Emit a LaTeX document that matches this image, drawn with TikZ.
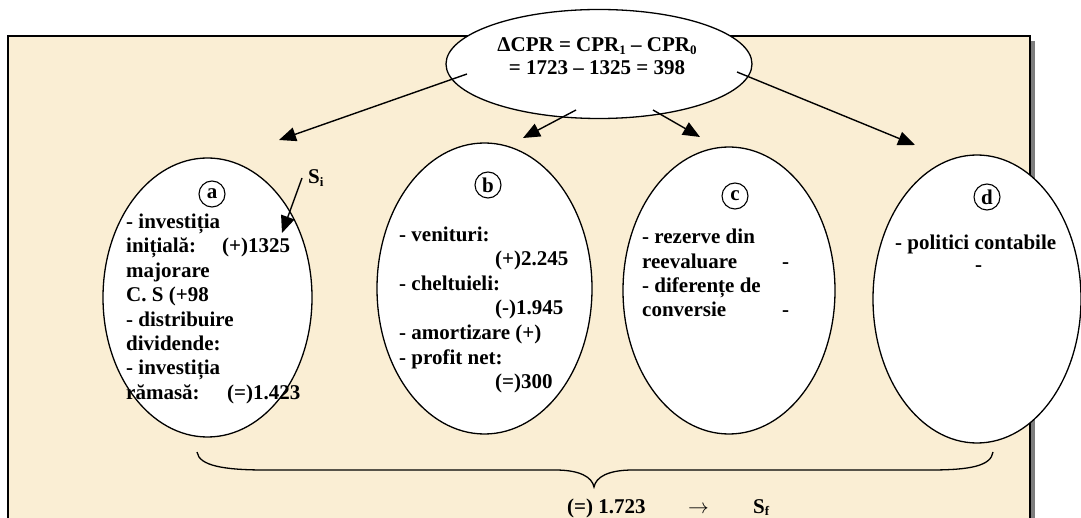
\documentclass[tikz,border=0pt]{standalone}
\usepackage{fontspec}
\setmainfont{Liberation Serif}
\usetikzlibrary{shapes.geometric,arrows.meta}
\definecolor{parch}{RGB}{250,238,212}
\definecolor{shadowgray}{RGB}{125,125,125}
\newcommand\lowsub[1]{\raisebox{-0.3ex}{\fontsize{13}{13}\selectfont #1}}
\begin{document}
\begin{tikzpicture}[x=1pt,y=-1pt,
  oval/.style={ellipse,draw,fill=white,line width=1.3pt,inner sep=0pt},
  txt/.style={font=\bfseries\fontsize{21}{24}\selectfont,inner sep=0pt,anchor=base west},
  ctxt/.style={txt,anchor=base},
  lettr/.style={circle,draw,line width=1.1pt,inner sep=0pt,minimum size=26pt,font=\bfseries\fontsize{21}{21}\selectfont},
  arr/.style={line width=1.4pt,-{Triangle[length=17pt,width=14pt]}}]
\useasboundingbox (0,0) rectangle (1081,518);
% background box
\fill[parch] (8,36) rectangle (1030,530);
\fill[shadowgray] (1030,41) rectangle (1035,530);
\draw[line width=1.5pt] (8,530) -- (8,36) -- (1030,36) -- (1030,530);
% ellipses
\node[oval,minimum width=306pt,minimum height=109pt] (top) at (599,64) {};
\node[oval,minimum width=209pt,minimum height=279pt] (ea) at (207.5,297.5) {};
\node[oval,minimum width=215pt,minimum height=291pt] (eb) at (484.5,288.5) {};
\node[oval,minimum width=212pt,minimum height=287pt] (ec) at (729,290.5) {};
\node[oval,minimum width=208pt,minimum height=288pt] (ed) at (977,299) {};
% top text
\node[ctxt] (t1) at (597,52) {ΔCPR = CPR\lowsub{1} – CPR\lowsub{0}};
\node[ctxt] (t2) at (597,75) {= 1723 – 1325 = 398};
% letters
\node[lettr] (la) at (212,194) {a};
\node[lettr] (lb) at (488,185) {b};
\node[lettr] (lc) at (735,196) {c};
\node[lettr] (ld) at (987,197) {d};
% text a
\node[txt] (a1) at (126,228.5) {- investiția};
\node[txt] (a2) at (126,252.9) {inițială:};
\node[txt] (a2v) at (222,252.9) {(+)1325};
\node[txt] (a3) at (126,277.3) {majorare};
\node[txt] (a4) at (126,301.7) {C. S (+98};
\node[txt] (a5) at (126,326.1) {- distribuire};
\node[txt] (a6) at (126,350.5) {dividende:};
\node[txt] (a7) at (126,374.9) {- investiția};
\node[txt] (a8) at (126,399.3) {rămasă:};
\node[txt] (a8v) at (227,399.3) {(=)1.423};
% text b
\node[txt] (b1) at (399,241.5) {- venituri:};
\node[txt] (b2) at (495,266) {(+)2.245};
\node[txt] (b3) at (399,290.5) {- cheltuieli:};
\node[txt] (b4) at (495,315) {(-)1.945};
\node[txt] (b5) at (399,339.5) {- amortizare (+)};
\node[txt] (b6) at (399,364) {- profit net:};
\node[txt] (b7) at (495,388.5) {(=)300};
% text c
\node[txt] (c1) at (642,244) {- rezerve din};
\node[txt] (c2) at (642,268.2) {reevaluare};
\node[txt] (c2v) at (782,268.2) {-};
\node[txt] (c3) at (642,292.4) {- diferențe de};
\node[txt] (c4) at (642,316.6) {conversie};
\node[txt] (c4v) at (782,316.6) {-};
% text d
\node[txt] (d1) at (895,249.5) {- politici contabile};
\node[txt] (d2) at (975,272) {-};
% S_i
\node[txt] (si) at (308,184) {S\lowsub{i}};
% arrows
\coordinate (s1) at (467,74); \coordinate (e1) at (279,140);
\coordinate (s2) at (576,110); \coordinate (e2) at (523,138);
\coordinate (s3) at (653,110); \coordinate (e3) at (700,137);
\coordinate (s4) at (737,72); \coordinate (e4) at (915,145);
\coordinate (s5) at (302,178); \coordinate (e5) at (282,233);
\draw[arr] (s1) -- (e1);
\draw[arr] (s2) -- (e2);
\draw[arr] (s3) -- (e3);
\draw[arr] (s4) -- (e4);
\draw[arr] (s5) -- (e5);
% brace
\draw[line width=1.3pt] (197,452) .. controls (199,466) and (225,470) .. (265,470) -- (555,470)
  .. controls (580,470) and (592,477) .. (594,487)
  .. controls (596,477) and (608,470) .. (633,470) -- (930,470)
  .. controls (970,470) and (991,466) .. (993,452);
% bottom text
\node[txt] (res) at (567,513) {(=) 1.723};
\node[txt,font=\fontsize{21}{24}\selectfont] (arrw) at (688,513) {$\rightarrow$};
\node[txt] (sf) at (753,513) {S\lowsub{f}};
\end{tikzpicture}
\end{document}
